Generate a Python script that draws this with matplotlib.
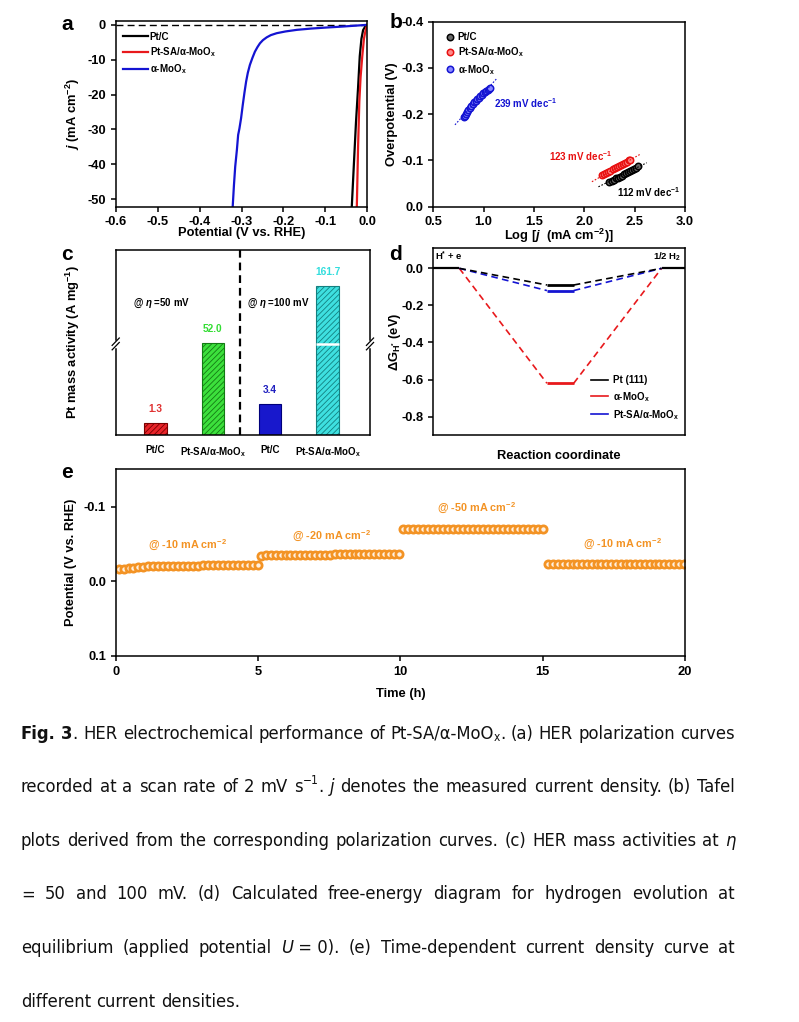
import os
import numpy as np
import matplotlib
matplotlib.use("Agg")
import matplotlib.pyplot as plt
from matplotlib import font_manager
from matplotlib.font_manager import FontProperties
from matplotlib.transforms import IdentityTransform
from matplotlib.lines import Line2D

# ---------------- data ----------------
# (a) polarization curves: potential (V vs RHE), current density (mA cm^-2)
ptc_E = [0.0, -0.005, -0.010, -0.014, -0.018, -0.022, -0.027, -0.032, -0.037]
ptc_j = [0.0, -0.5, -1.5, -4.0, -9.0, -18.0, -28.0, -40.0, -52.2]
ptsa_E = [0.0, -0.004, -0.008, -0.012, -0.016, -0.019, -0.022, -0.025]
ptsa_j = [0.0, -1.5, -4.0, -9.0, -15.0, -22.0, -35.0, -52.2]
moox_E = [0.0, -0.030, -0.057, -0.097, -0.135, -0.168, -0.195, -0.216, -0.230, -0.240, -0.249, -0.256,
          -0.262, -0.268, -0.274, -0.280, -0.285, -0.289, -0.293, -0.297, -0.301, -0.305, -0.308, -0.311,
          -0.315, -0.318, -0.321]
moox_j = [0.0, -0.25, -0.48, -0.77, -1.08, -1.44, -1.90, -2.40, -2.95, -3.60, -4.40, -5.30,
          -6.40, -7.70, -9.50, -11.5, -13.8, -16.3, -19.5, -23.0, -26.8, -29.8, -31.6, -35.9,
          -40.7, -46.0, -52.2]

# (b) Tafel plots: log j, overpotential (V)
tafel_ptc_x = [2.25, 2.27, 2.29, 2.31, 2.33, 2.35, 2.37, 2.39, 2.41, 2.43, 2.45, 2.47, 2.49, 2.51, 2.53]
tafel_ptc_y = [-0.054, -0.056, -0.058, -0.061, -0.063, -0.065, -0.067, -0.070, -0.072, -0.074, -0.077,
               -0.079, -0.081, -0.084, -0.087]
tafel_ptsa_x = [2.18, 2.20, 2.22, 2.24, 2.26, 2.28, 2.30, 2.32, 2.34, 2.36, 2.38, 2.40, 2.42, 2.44, 2.45]
tafel_ptsa_y = [-0.068, -0.071, -0.073, -0.076, -0.078, -0.081, -0.083, -0.086, -0.088, -0.090, -0.093,
                -0.095, -0.097, -0.100, -0.102]
tafel_moox_x = [0.80, 0.81, 0.82, 0.83, 0.845, 0.86, 0.875, 0.89, 0.905, 0.92, 0.935, 0.95, 0.965, 0.98,
                0.995, 1.01, 1.025, 1.04, 1.05, 1.06]
tafel_moox_y = [-0.193, -0.197, -0.201, -0.205, -0.210, -0.214, -0.218, -0.222, -0.226, -0.229, -0.233,
                -0.236, -0.239, -0.242, -0.245, -0.247, -0.250, -0.252, -0.254, -0.256]
fit_ptc_x, fit_ptc_y = [2.14, 2.62], [-0.043, -0.095]
fit_ptsa_x, fit_ptsa_y = [2.075, 2.56], [-0.054, -0.114]
fit_moox_x, fit_moox_y = [0.715, 1.13], [-0.177, -0.277]
tafel_slopes = ["239", "123", "112"]

# (c) mass activity
mass_labels = ["Pt/C", "Pt-SA/α-MoO$_x$", "Pt/C", "Pt-SA/α-MoO$_x$"]
mass_values = [1.3, 52.0, 3.4, 161.7]

# (d) free energy diagram
fe_names = ["Pt (111)", "α-MoO$_x$", "Pt-SA/α-MoO$_x$"]
fe_pt = [0.0, -0.09, 0.0]
fe_moox = [0.0, -0.62, 0.0]
fe_ptsa = [0.0, -0.12, 0.0]

# (e) chronopotentiometry: segment bounds (h) and potentials (V)
seg_bounds = [(0.1, 5.0), (5.1, 9.95), (10.1, 15.0), (15.2, 19.95)]
seg_labels = ["@ -10 mA cm$^{-2}$", "@ -20 mA cm$^{-2}$", "@ -50 mA cm$^{-2}$", "@ -10 mA cm$^{-2}$"]
seg1_v = [-0.017, -0.017, -0.0172, -0.0175, -0.0195, -0.0198, -0.0200, -0.0202, -0.0203, -0.0205,
          -0.0206, -0.0207, -0.0208, -0.0209, -0.0210, -0.0210, -0.0211, -0.0212, -0.0213, -0.0214,
          -0.0215, -0.0216, -0.0217, -0.0218, -0.0219, -0.0220, -0.0221, -0.0222, -0.0224]
seg2_v = [-0.0345, -0.0347, -0.0348, -0.0350, -0.0351, -0.0352, -0.0353, -0.0354, -0.0355, -0.0356,
          -0.0356, -0.0357, -0.0358, -0.0358, -0.0359, -0.0360, -0.0360, -0.0361, -0.0362, -0.0362,
          -0.0363, -0.0364, -0.0364, -0.0365, -0.0366, -0.0366, -0.0367, -0.0368, -0.0369]
seg3_v = [-0.0700, -0.0702, -0.0703, -0.0704, -0.0704, -0.0705, -0.0705, -0.0705, -0.0706, -0.0706,
          -0.0706, -0.0706, -0.0706, -0.0707, -0.0707, -0.0707, -0.0707, -0.0707, -0.0707, -0.0707,
          -0.0707, -0.0707, -0.0707, -0.0707, -0.0707, -0.0707, -0.0707, -0.0707, -0.0707]
seg4_v = [-0.0232, -0.0233, -0.0233, -0.0234, -0.0234, -0.0234, -0.0234, -0.0234, -0.0235, -0.0235,
          -0.0235, -0.0235, -0.0235, -0.0235, -0.0235, -0.0235, -0.0235, -0.0235, -0.0235, -0.0235,
          -0.0235, -0.0235, -0.0235, -0.0235, -0.0235, -0.0235, -0.0235, -0.0235, -0.0235]

# ---------------- style ----------------
plt.rcParams.update({
    "font.family": ["Liberation Sans", "DejaVu Sans"],
    "font.weight": "bold",
    "axes.labelweight": "bold",
    "axes.unicode_minus": False,
    "mathtext.fontset": "custom",
    "mathtext.rm": "Liberation Sans:bold",
    "mathtext.it": "Liberation Sans:bold:italic",
    "mathtext.bf": "Liberation Sans:bold",
    "mathtext.default": "rm",
    "axes.linewidth": 1.1,
    "xtick.major.width": 1.1,
    "ytick.major.width": 1.1,
    "xtick.major.size": 3.5,
    "ytick.major.size": 3.5,
    "xtick.labelsize": 9.3,
    "ytick.labelsize": 9.3,
    "hatch.linewidth": 0.6,
})

W, H = 799, 1022
fig = plt.figure(figsize=(W / 100, H / 100), dpi=100)


def rect(l, r, t, b):
    return [l / W, 1 - b / H, (r - l) / W, (b - t) / H]


LAB = 9.3

# ---------------- (a) ----------------
axa = fig.add_axes(rect(115.7, 367.3, 21, 206.7))
axa.axhline(0, color="black", lw=1.0, ls=(0, (5, 3)))
axa.plot(ptc_E, ptc_j, color="black", lw=1.6, label="Pt/C")
axa.plot(ptsa_E, ptsa_j, color="#e8191c", lw=1.6, label="Pt-SA/α-MoO$_x$")
axa.plot(moox_E, moox_j, color="#1414d2", lw=1.6, label="α-MoO$_x$")
axa.set_xlim(-0.6, 0.0)
axa.set_ylim(-52.2, 1.1)
axa.set_xticks(np.arange(-0.6, 0.01, 0.1))
axa.set_xticklabels(["-0.6", "-0.5", "-0.4", "-0.3", "-0.2", "-0.1", "0.0"])
axa.set_yticks([0, -10, -20, -30, -40, -50])
axa.set_xlabel("Potential (V vs. RHE)", fontsize=LAB)
axa.set_ylabel(r"$\mathit{j}$ (mA cm$^{-2}$)", fontsize=LAB)
axa.yaxis.set_label_coords(-0.135, 0.5)
axa.xaxis.set_label_coords(0.5, -0.108)
axa.legend(loc="upper left", bbox_to_anchor=(0.0, 0.98), frameon=False, fontsize=7,
           handlelength=2.6, handletextpad=0.2, labelspacing=0.35, borderaxespad=0.3)

# ---------------- (b) ----------------
axb = fig.add_axes(rect(433.3, 685, 21.7, 206.7))
for xs, ys, fc, ec, lab in [
    (tafel_ptc_x, tafel_ptc_y, "#6a6a6a", "black", "Pt/C"),
    (tafel_ptsa_x, tafel_ptsa_y, "#ff8a8a", "#e81010", "Pt-SA/α-MoO$_x$"),
    (tafel_moox_x, tafel_moox_y, "#8a8aff", "#1414d2", "α-MoO$_x$"),
]:
    axb.plot(xs, ys, ls="none", marker="o", ms=4.6, mfc=fc, mec=ec, mew=1.1, label=lab)
axb.plot(fit_ptc_x, fit_ptc_y, color="black", lw=0.8, ls=(0, (1.5, 1.5)))
axb.plot(fit_ptsa_x, fit_ptsa_y, color="#e81010", lw=0.8, ls=(0, (1.5, 1.5)))
axb.plot(fit_moox_x, fit_moox_y, color="#1414d2", lw=0.8, ls=(0, (1.5, 1.5)))
axb.set_xlim(0.5, 3.0)
axb.set_ylim(0.0, -0.4)
axb.set_xticks([0.5, 1.0, 1.5, 2.0, 2.5, 3.0])
axb.set_yticks([0.0, -0.1, -0.2, -0.3, -0.4])
axb.set_yticklabels(["0.0", "-0.1", "-0.2", "-0.3", "-0.4"])
axb.set_xlabel(r"Log [$\mathit{j}$  (mA cm$^{-2}$)]", fontsize=LAB)
axb.set_ylabel("Overpotential (V)", fontsize=LAB)
axb.yaxis.set_label_coords(-0.139, 0.5)
axb.xaxis.set_label_coords(0.5, -0.108)
axb.legend(loc="upper left", bbox_to_anchor=(0.02, 0.98), frameon=False, fontsize=7, numpoints=1,
           handlelength=1.0, handletextpad=0.3, labelspacing=0.35, borderaxespad=0.3)
axb.text(1.42, -0.224, f"{tafel_slopes[0]} mV dec$^{{-1}}$", color="#1414d2", fontsize=7.0,
         ha="center", va="center")
axb.text(1.966, -0.110, f"{tafel_slopes[1]} mV dec$^{{-1}}$", color="#e81010", fontsize=7.0,
         ha="center", va="center")
axb.text(2.637, -0.032, f"{tafel_slopes[2]} mV dec$^{{-1}}$", color="black", fontsize=7.0,
         ha="center", va="center")

# ---------------- (c) ----------------
BRK_LO, BRK_HI, KUP, KMID = 10.0, 50.0, 0.057, 1e-4


def fwd(v):
    v = np.asarray(v, dtype=float)
    return np.where(v <= BRK_LO, v,
                    np.where(v <= BRK_HI, BRK_LO + (v - BRK_LO) * KMID,
                             BRK_LO + (BRK_HI - BRK_LO) * KMID + (v - BRK_HI) * KUP))


def inv(u):
    u = np.asarray(u, dtype=float)
    um = BRK_LO + (BRK_HI - BRK_LO) * KMID
    return np.where(u <= BRK_LO, u,
                    np.where(u <= um, BRK_LO + (u - BRK_LO) / KMID, BRK_HI + (u - um) / KUP))


axc = fig.add_axes(rect(115.7, 370, 250, 435))
axc.set_yscale("function", functions=(fwd, inv))
pos = np.arange(len(mass_values))
faces = ["#e8242a", "#3ce03c", "#1818cc", "#3ee0e0"]
edges = ["#7a0000", "#137a13", "#00007a", "#138080"]
hatches = ["//////", "//////", None, "//////"]
txtcol = ["#e03030", "#33dd33", "#2020c0", "#33dddd"]
for i, v in enumerate(mass_values):
    axc.bar(pos[i], v, width=0.39, color=faces[i], edgecolor=edges[i], hatch=hatches[i], lw=0.8)
    axc.annotate(f"{v:.1f}", (pos[i], v), xytext=(0, 10), textcoords="offset points",
                 ha="center", va="center", color=txtcol[i], fontsize=7.3)
axc.set_xlim(-0.689, 3.736)
axc.set_ylim(0, 231)
axc.set_yticks([])
axc.yaxis.set_minor_locator(matplotlib.ticker.NullLocator())
axc.set_xticks(pos)
axc.set_xticklabels(mass_labels, fontsize=7)
axc.tick_params(axis="x", length=0, pad=7)
axc.axvline(1.47, color="black", lw=1.6, ls=(0, (3.5, 2.2)))
# gap on tall bar and break marks on spines
axc.hlines(BRK_HI, pos[3] - 0.2, pos[3] + 0.2, color="white", lw=1.8, zorder=3)
fig.canvas.draw()
yb = axc.transAxes.inverted().transform(axc.transData.transform((0, BRK_HI)))[1]
for xs in (0.0, 1.0):
    axc.plot([xs, xs], [yb - 0.012, yb + 0.012], transform=axc.transAxes, color="white", lw=2.5,
             clip_on=False, zorder=5)
    for dy in (-0.012, 0.012):
        axc.plot([xs - 0.014, xs + 0.014], [yb + dy - 0.02, yb + dy + 0.02], transform=axc.transAxes,
                 color="black", lw=0.9, clip_on=False, zorder=6)
axc.text(0.068, 0.714, r"@ $\mathit{η}$ =50 mV", transform=axc.transAxes, fontsize=7, va="center")
axc.text(0.515, 0.714, r"@ $\mathit{η}$ =100 mV", transform=axc.transAxes, fontsize=7, va="center")
axc.set_ylabel("Pt mass activity (A mg$^{-1}$)", fontsize=LAB)
axc.yaxis.set_label_coords(-0.131, 0.5)

# ---------------- (d) ----------------
axd = fig.add_axes(rect(433.3, 685, 248.3, 435))
lev_x = [(0.0, 1.0), (4.37, 5.4), (8.78, 9.9)]
for vals, col in [(fe_moox, "#e8191c"), (fe_ptsa, "#1414d2"), (fe_pt, "black")]:
    for k in range(len(vals) - 1):
        axd.plot([lev_x[k][1], lev_x[k + 1][0]], [vals[k], vals[k + 1]], color=col, lw=1.2,
                 ls=(0, (4, 2.6)))
    axd.plot(lev_x[1], [vals[1], vals[1]], color=col, lw=2.0, solid_capstyle="butt")
axd.plot(lev_x[0], [fe_pt[0], fe_pt[0]], color="black", lw=1.6, solid_capstyle="butt")
axd.plot(lev_x[2], [fe_pt[2], fe_pt[2]], color="black", lw=1.6, solid_capstyle="butt")
axd.set_xlim(0, 9.68)
axd.set_ylim(-0.899, 0.108)
axd.set_xticks([])
axd.set_yticks([0.0, -0.2, -0.4, -0.6, -0.8])
axd.set_yticklabels(["0.0", "-0.2", "-0.4", "-0.6", "-0.8"])
axd.set_xlabel("Reaction coordinate", fontsize=LAB)
axd.xaxis.set_label_coords(0.5, -0.08)
axd.set_ylabel(r"ΔG$_{\mathregular{H^{*}}}$ (eV)", fontsize=LAB)
axd.yaxis.set_label_coords(-0.119, 0.5)
axd.text(0.007, 0.955, "H$^{*}$ + e", transform=axd.transAxes, fontsize=6.8, va="center", ha="left")
axd.text(0.986, 0.955, "1/2 H$_{2}$", transform=axd.transAxes, fontsize=6.8, va="center", ha="right")
handles = [Line2D([], [], color=c, lw=1.2) for c in ("black", "#e8191c", "#1414d2")]
axd.legend(handles, fe_names, loc="lower right", bbox_to_anchor=(1.0, 0.04), frameon=False, fontsize=7,
           handlelength=1.8, handletextpad=0.5, labelspacing=0.45, borderaxespad=0.2)

# ---------------- (e) ----------------
axe = fig.add_axes(rect(115.7, 685, 469.3, 656))
for (t0, t1), vals in zip(seg_bounds, [seg1_v, seg2_v, seg3_v, seg4_v]):
    tt = np.linspace(t0, t1, len(vals))
    axe.plot(tt, vals, ls="none", marker="o", ms=5.2, mfc="#fff1e2", mec="#f39324", mew=2.0)
axe.set_xlim(0, 20)
axe.set_ylim(0.1, -0.15)
axe.set_xticks([0, 5, 10, 15, 20])
axe.set_yticks([-0.1, 0.0, 0.1])
axe.set_yticklabels(["-0.1", "0.0", "0.1"])
axe.set_xlabel("Time (h)", fontsize=LAB)
axe.xaxis.set_label_coords(0.5, -0.171)
axe.set_ylabel("Potential (V vs. RHE)", fontsize=LAB)
axe.yaxis.set_label_coords(-0.0685, 0.5)
lab_pos = [(2.54, -0.048), (7.59, -0.060), (12.69, -0.098), (17.82, -0.0494)]
for (x, y), s in zip(lab_pos, seg_labels):
    axe.text(x, y, s, color="#f39324", fontsize=7.8, ha="center", va="center")

for ax in (axa, axb, axc, axd, axe):
    ax.tick_params(top=False, right=False, direction="out")

# panel letters
for s, x, y in [("a", 67, 25), ("b", 396, 22), ("c", 67, 255), ("d", 396, 254), ("e", 67, 472)]:
    fig.text(x / W, 1 - y / H, s, fontsize=15, fontweight="bold", ha="center", va="center")

# ---------------- caption ----------------
def find_font(cands):
    files = {os.path.basename(f.fname).lower(): f.fname for f in font_manager.fontManager.ttflist}
    for c in cands:
        if c in files:
            return files[c]
    return None


fam_sets = [
    ("liberationsansnarrow-regular.ttf", "liberationsansnarrow-bold.ttf", "liberationsansnarrow-italic.ttf"),
    ("dejavusanscondensed.ttf", "dejavusanscondensed-bold.ttf", "dejavusanscondensed-oblique.ttf"),
    ("robotocondensed-regular.ttf", "robotocondensed-bold.ttf", "robotocondensed-italic.ttf"),
]
cap_files = None
for rg, bd, it in fam_sets:
    r = find_font([rg])
    if r:
        cap_files = (r, find_font([bd]) or r, find_font([it]) or r)
        break


def cap_fp(style, size):
    if cap_files is None:
        fp = FontProperties(family="Liberation Sans", weight="bold" if style == "b" else "normal",
                            style="italic" if style == "i" else "normal")
    else:
        idx = 1 if style == "b" else (2 if style == "i" else 0)
        fp = FontProperties(fname=cap_files[idx])
    fp.set_size(size)
    return fp


cap_lines = [
    [[("Fig.", "b")], [("3", "b"), (".", "")], "HER", "electrochemical", "performance", "of",
     [("Pt-SA/α-MoO", ""), ("x", "sub"), (".", "")], "(a)", "HER", "polarization", "curves"],
    ["recorded", "at", "a", "scan", "rate", "of", "2", "mV", [("s", ""), ("−1", "sup"), (".", "")],
     [("j", "i")], "denotes", "the", "measured", "current", "density.", "(b)", "Tafel"],
    ["plots", "derived", "from", "the", "corresponding", "polarization", "curves.", "(c)", "HER", "mass",
     "activities", "at", [("η", "i")]],
    ["=", "50", "and", "100", "mV.", "(d)", "Calculated", "free-energy", "diagram", "for", "hydrogen",
     "evolution", "at"],
    ["equilibrium", "(applied", "potential", [("U", "i"), (" = 0).", "")], "(e)", "Time-dependent",
     "current", "density", "curve", "at"],
    ["different", "current", "densities."],
]
renderer = fig.canvas.get_renderer()
X0, X1 = 21, 735
base0, dline = 738.5, 53.6


def seg_text(txt, style, fs):
    size = fs * 0.65 if style in ("sup", "sub") else fs
    return fig.text(0, 0, txt, fontproperties=cap_fp(style, size), color="#111111",
                    transform=IdentityTransform(), va="baseline", ha="left")


def build_line(words, fs):
    built = []
    for w in words:
        segs = [(w, "")] if isinstance(w, str) else w
        objs = []
        wid = 0
        for txt, st in segs:
            t = seg_text(txt, st, fs)
            ww = t.get_window_extent(renderer).width
            objs.append((t, st, wid))
            wid += ww
        built.append((objs, wid))
    return built


def space_width(fs):
    a = seg_text("a a", "", fs)
    b = seg_text("aa", "", fs)
    w = a.get_window_extent(renderer).width - b.get_window_extent(renderer).width
    a.remove()
    b.remove()
    return w


# choose font size so that the first line fills the width with normal spacing
FS0 = 11.5
probe = build_line(cap_lines[0], FS0)
nat = sum(b[1] for b in probe) + (len(probe) - 1) * space_width(FS0)
for objs, _ in probe:
    for t, _, _ in objs:
        t.remove()
CAP_FS = FS0 * (X1 - X0) / nat
CAP_FS = min(CAP_FS, 14.0)
SPW = space_width(CAP_FS)

for li, words in enumerate(cap_lines):
    built = build_line(words, CAP_FS)
    total = sum(b[1] for b in built)
    if li < len(cap_lines) - 1:
        gap = (X1 - X0 - total) / (len(built) - 1)
    else:
        gap = SPW
    x = X0
    ybase = H - (base0 + li * dline)
    for objs, wid in built:
        for t, st, off in objs:
            dy = 0
            if st == "sup":
                dy = CAP_FS * 1.389 * 0.42
            elif st == "sub":
                dy = -CAP_FS * 1.389 * 0.12
            t.set_position((x + off, ybase + dy))
        x += wid + gap

fig.savefig("out.png", dpi=100)
